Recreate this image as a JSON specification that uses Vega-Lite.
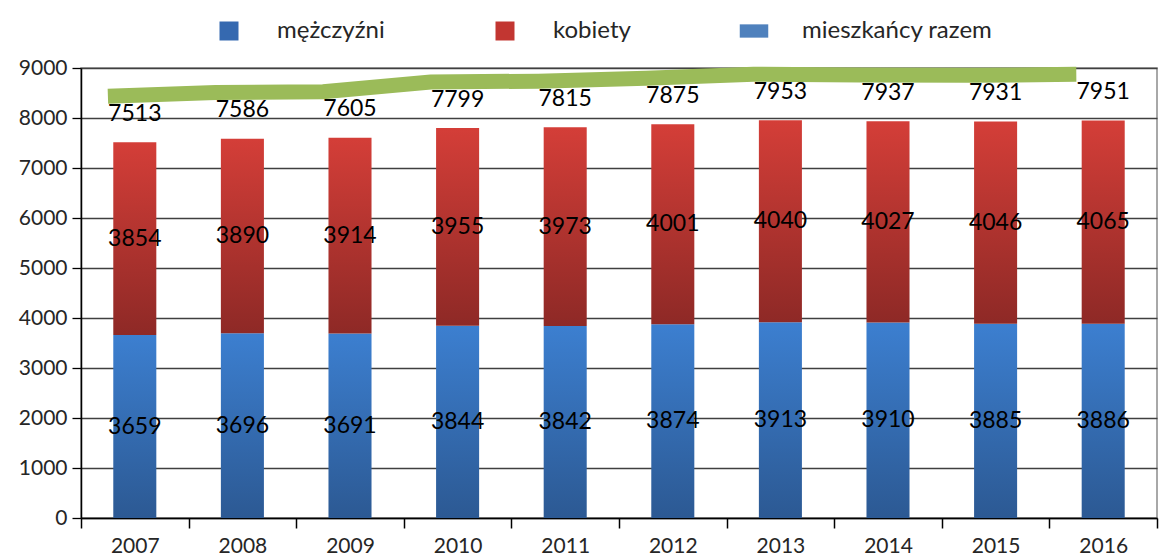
{
  "$schema": "https://vega.github.io/schema/vega-lite/v6.json",
  "width": 1076,
  "height": 450,
  "autosize": {"type": "none"},
  "padding": {"left": 81, "top": 68, "right": 16, "bottom": 37},
  "background": "white",
  "config": {
    "view": {"stroke": "#8c8c8c", "strokeWidth": 1.5},
    "font": "Lato",
    "text": {"font": "Lato"}
  },
  "data": {
    "values": [
      {"rok": "2007", "mężczyźni": 3659, "kobiety": 3854, "mieszkańcy razem": 7513},
      {"rok": "2008", "mężczyźni": 3696, "kobiety": 3890, "mieszkańcy razem": 7586},
      {"rok": "2009", "mężczyźni": 3691, "kobiety": 3914, "mieszkańcy razem": 7605},
      {"rok": "2010", "mężczyźni": 3844, "kobiety": 3955, "mieszkańcy razem": 7799},
      {"rok": "2011", "mężczyźni": 3842, "kobiety": 3973, "mieszkańcy razem": 7815},
      {"rok": "2012", "mężczyźni": 3874, "kobiety": 4001, "mieszkańcy razem": 7875},
      {"rok": "2013", "mężczyźni": 3913, "kobiety": 4040, "mieszkańcy razem": 7953},
      {"rok": "2014", "mężczyźni": 3910, "kobiety": 4027, "mieszkańcy razem": 7937},
      {"rok": "2015", "mężczyźni": 3885, "kobiety": 4046, "mieszkańcy razem": 7931},
      {"rok": "2016", "mężczyźni": 3886, "kobiety": 4065, "mieszkańcy razem": 7951}
    ]
  },
  "resolve": {"scale": {"y": "independent"}},
  "layer": [
    {
      "mark": {
        "type": "bar",
        "width": {"band": 0.4},
        "color": {"gradient": "linear", "x1": 0, "y1": 0, "x2": 0, "y2": 1,
          "stops": [{"offset": 0, "color": "#3c7fd0"}, {"offset": 1, "color": "#2c5993"}]}
      },
      "encoding": {
        "x": {
          "field": "rok", "type": "ordinal",
          "scale": {"paddingInner": 0, "paddingOuter": 0},
          "axis": {
            "title": null, "labelAngle": 0, "tickBand": "extent", "tickSize": 10,
            "labelPadding": 7, "domainColor": "#000000", "tickColor": "#000000",
            "domainWidth": 1.5, "tickWidth": 1.5,
            "labelFont": "Lato", "labelFontSize": 21, "labelColor": "#262626", "grid": false
          }
        },
        "y": {
          "field": "mężczyźni", "type": "quantitative",
          "scale": {"domain": [0, 9000], "nice": false, "zero": true},
          "axis": {
            "title": null, "values": [0, 1000, 2000, 3000, 4000, 5000, 6000, 7000, 8000, 9000],
            "format": "d",
            "grid": true, "gridColor": "#404040", "gridWidth": 1.3,
            "tickSize": 9, "labelPadding": 5, "domainColor": "#000000", "tickColor": "#000000",
            "domainWidth": 1.5, "tickWidth": 1.3,
            "labelFont": "Lato", "labelFontSize": 21, "labelColor": "#262626"
          }
        }
      }
    },
    {
      "mark": {
        "type": "bar",
        "width": {"band": 0.4},
        "color": {"gradient": "linear", "x1": 0, "y1": 0, "x2": 0, "y2": 1,
          "stops": [{"offset": 0, "color": "#d43e38"}, {"offset": 1, "color": "#8e2926"}]}
      },
      "encoding": {
        "x": {"field": "rok", "type": "ordinal"},
        "y": {"field": "mieszkańcy razem", "type": "quantitative",
          "scale": {"domain": [0, 9000], "nice": false}, "axis": null},
        "y2": {"field": "mężczyźni"}
      }
    },
    {
      "mark": {"type": "text", "font": "Lato", "fontSize": 23, "color": "#000000", "baseline": "middle"},
      "encoding": {
        "x": {"field": "rok", "type": "ordinal"},
        "y": {"field": "mężczyźni", "type": "quantitative",
          "scale": {"domain": [0, 18000], "nice": false}, "axis": null},
        "text": {"field": "mężczyźni", "type": "quantitative"}
      }
    },
    {
      "transform": [
        {"fold": ["mężczyźni", "mieszkańcy razem"], "as": ["k", "v"]},
        {"aggregate": [{"op": "mean", "field": "v", "as": "mid"}], "groupby": ["rok", "kobiety"]}
      ],
      "mark": {"type": "text", "font": "Lato", "fontSize": 23, "color": "#000000", "baseline": "middle"},
      "encoding": {
        "x": {"field": "rok", "type": "ordinal"},
        "y": {"field": "mid", "type": "quantitative",
          "scale": {"domain": [0, 9000], "nice": false}, "axis": null},
        "text": {"field": "kobiety", "type": "quantitative"}
      }
    },
    {
      "mark": {"type": "line", "color": "#9bbb59", "strokeWidth": 15, "strokeCap": "butt", "strokeJoin": "miter"},
      "encoding": {
        "x": {"field": "rok", "type": "ordinal", "bandPosition": 0.25},
        "y": {"field": "mieszkańcy razem", "type": "quantitative",
          "scale": {"domain": [-922, 8078], "nice": false, "zero": false}, "axis": null}
      }
    },
    {
      "mark": {"type": "text", "font": "Lato", "fontSize": 23, "color": "#000000", "baseline": "middle", "dy": 17.6},
      "encoding": {
        "x": {"field": "rok", "type": "ordinal"},
        "y": {"field": "mieszkańcy razem", "type": "quantitative",
          "scale": {"domain": [-922, 8078], "nice": false, "zero": false}, "axis": null},
        "text": {"field": "mieszkańcy razem", "type": "quantitative"}
      }
    },
    {
      "transform": [
        {"fold": ["mężczyźni", "kobiety", "mieszkańcy razem"], "as": ["seria", "wartosc"]}
      ],
      "mark": {"type": "point", "filled": true, "opacity": 0},
      "encoding": {
        "x": {"field": "rok", "type": "ordinal"},
        "y": {"field": "wartosc", "type": "quantitative",
          "scale": {"domain": [0, 9000], "nice": false}, "axis": null},
        "color": {
          "field": "seria", "type": "nominal",
          "scale": {"domain": ["mężczyźni", "kobiety", "mieszkańcy razem"],
            "range": ["#3569b0", "#c23631", "#4f81bd"]},
          "legend": {
            "orient": "none", "legendX": 136, "legendY": -49, "direction": "horizontal",
            "title": null, "symbolSize": 361, "labelOffset": 36, "columnPadding": 108,
            "labelFont": "Lato", "labelFontSize": 24, "labelColor": "#262626", "labelLimit": 400,
            "symbolOpacity": 1, "symbolStrokeWidth": 0, "padding": 0
          }
        },
        "shape": {
          "field": "seria", "type": "nominal",
          "scale": {"domain": ["mężczyźni", "kobiety", "mieszkańcy razem"],
            "range": ["square", "square", "M-1.5,-0.7L1.5,-0.7L1.5,0.7L-1.5,0.7Z"]},
          "legend": {
            "orient": "none", "legendX": 136, "legendY": -49, "direction": "horizontal",
            "title": null, "symbolSize": 361, "labelOffset": 36, "columnPadding": 108,
            "labelFont": "Lato", "labelFontSize": 24, "labelColor": "#262626", "labelLimit": 400,
            "symbolOpacity": 1, "symbolStrokeWidth": 0, "padding": 0
          }
        }
      }
    }
  ]
}
